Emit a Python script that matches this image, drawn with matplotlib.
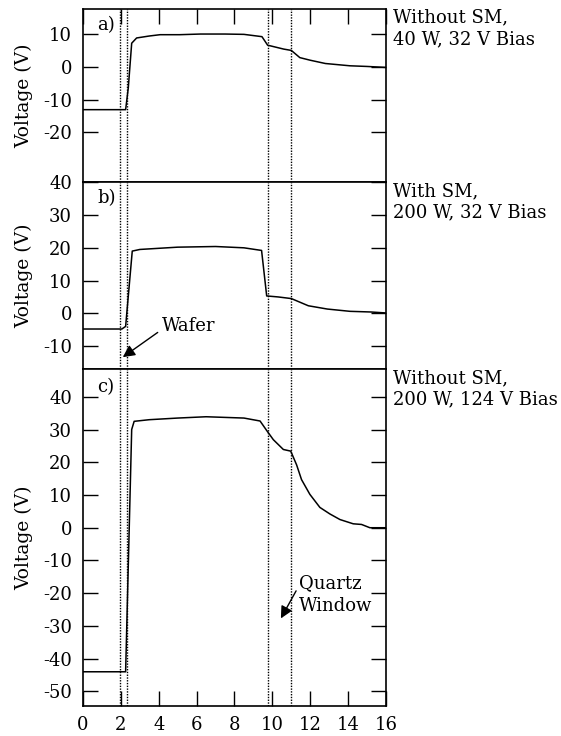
import matplotlib
matplotlib.use("Agg")
import matplotlib.pyplot as plt

plt.rcParams['font.family'] = ['DejaVu Serif']
plt.rcParams['axes.unicode_minus'] = False

# ---- data ----
xa = [0, 2.25, 2.39, 2.57, 2.83, 3.5, 4.07, 5.1, 6.2, 7.5, 8.5, 9.45, 9.75, 10.6, 11.0, 11.45, 12.0, 12.8, 14.1, 15.0, 16.0]
ya = [-13.1, -13.1, -6.5, 7.2, 8.8, 9.4, 9.8, 9.8, 10.0, 10.0, 9.9, 9.2, 6.6, 5.4, 5.0, 2.8, 2.0, 1.0, 0.3, 0.1, -0.2]

xb = [0, 2.05, 2.25, 2.6, 3.0, 5.0, 7.0, 8.5, 9.43, 9.7, 10.3, 11.0, 11.9, 12.9, 14.1, 15.2, 16.0]
yb = [-4.8, -4.8, -4.0, 19.0, 19.5, 20.2, 20.4, 20.0, 19.2, 5.3, 5.0, 4.5, 2.3, 1.3, 0.6, 0.4, 0.1]

xc = [0, 2.25, 2.57, 2.7, 3.5, 5.0, 6.5, 8.5, 9.35, 9.7, 10.05, 10.58, 10.97, 11.28, 11.54, 11.98, 12.51, 13.04, 13.57, 14.27, 14.71, 15.15, 16.0]
yc = [-44.0, -44.0, 30.0, 32.5, 33.0, 33.5, 33.9, 33.5, 32.6, 29.7, 26.9, 23.9, 23.4, 19.2, 14.7, 10.2, 6.2, 4.2, 2.5, 1.2, 1.0, 0.0, 0.0]

vlines = [1.95, 2.3, 9.75, 11.0]

panel_labels = ['a)', 'b)', 'c)']
conditions = ['Without SM,\n40 W, 32 V Bias', 'With SM,\n200 W, 32 V Bias', 'Without SM,\n200 W, 124 V Bias']
ylims = [(-35.3, 17.7), (-17.0, 40.0), (-54.4, 48.5)]
yticks = [[-20, -10, 0, 10], [-10, 0, 10, 20, 30, 40], [-50, -40, -30, -20, -10, 0, 10, 20, 30, 40]]
xticks = [0, 2, 4, 6, 8, 10, 12, 14, 16]
label_y = [12.8, 35.2, 43.0]

fig = plt.figure(figsize=(5.61, 7.36), dpi=100)
heights = [l[1] - l[0] for l in ylims]
gs = fig.add_gridspec(3, 1, height_ratios=heights, hspace=0,
                      left=0.148, right=0.688, top=0.988, bottom=0.041)
axes = [fig.add_subplot(gs[i]) for i in range(3)]
data = [(xa, ya), (xb, yb), (xc, yc)]

for i, ax in enumerate(axes):
    x, y = data[i]
    ax.plot(x, y, color='black', lw=1.1)
    for v in vlines:
        ax.axvline(v, color='black', lw=1.0, ls=(0, (1, 1)))
    ax.set_xlim(0, 16)
    ax.set_ylim(*ylims[i])
    ax.set_yticks(yticks[i])
    ax.set_xticks(xticks)
    ax.tick_params(axis='y', direction='in', left=True, right=True, length=10.5, width=1.0,
                   labelsize=13, pad=8)
    ax.tick_params(axis='x', direction='in', top=(i == 0), bottom=(i == 2), length=10.5, width=1.0,
                   labelsize=13, labelbottom=(i == 2), pad=7)
    for s in ax.spines.values():
        s.set_linewidth(1.2)
    ax.set_ylabel('Voltage (V)', fontsize=13.5)
    ax.yaxis.set_label_coords(-0.165, 0.5)
    ax.text(0.75, label_y[i], panel_labels[i], fontsize=13, va='center', ha='left')
    ax.text(1.023, 1.0, conditions[i], transform=ax.transAxes, fontsize=13,
            va='top', ha='left', linespacing=1.25)

axes[1].annotate('Wafer', xy=(2.1, -13.4), xytext=(4.15, -3.9), fontsize=13,
                 va='center', ha='left',
                 arrowprops=dict(arrowstyle='-|>', color='black', lw=1.0,
                                 mutation_scale=18, shrinkA=1, shrinkB=0,
                                 relpos=(0, 0.3)))
axes[2].annotate('Quartz\nWindow', xy=(10.45, -27.7), xytext=(11.4, -20.5), fontsize=13,
                 va='center', ha='left', linespacing=1.35,
                 arrowprops=dict(arrowstyle='-|>', color='black', lw=1.0,
                                 mutation_scale=18, shrinkA=0, shrinkB=0,
                                 relpos=(0, 0.72)))

fig.savefig('out.png', dpi=100)
